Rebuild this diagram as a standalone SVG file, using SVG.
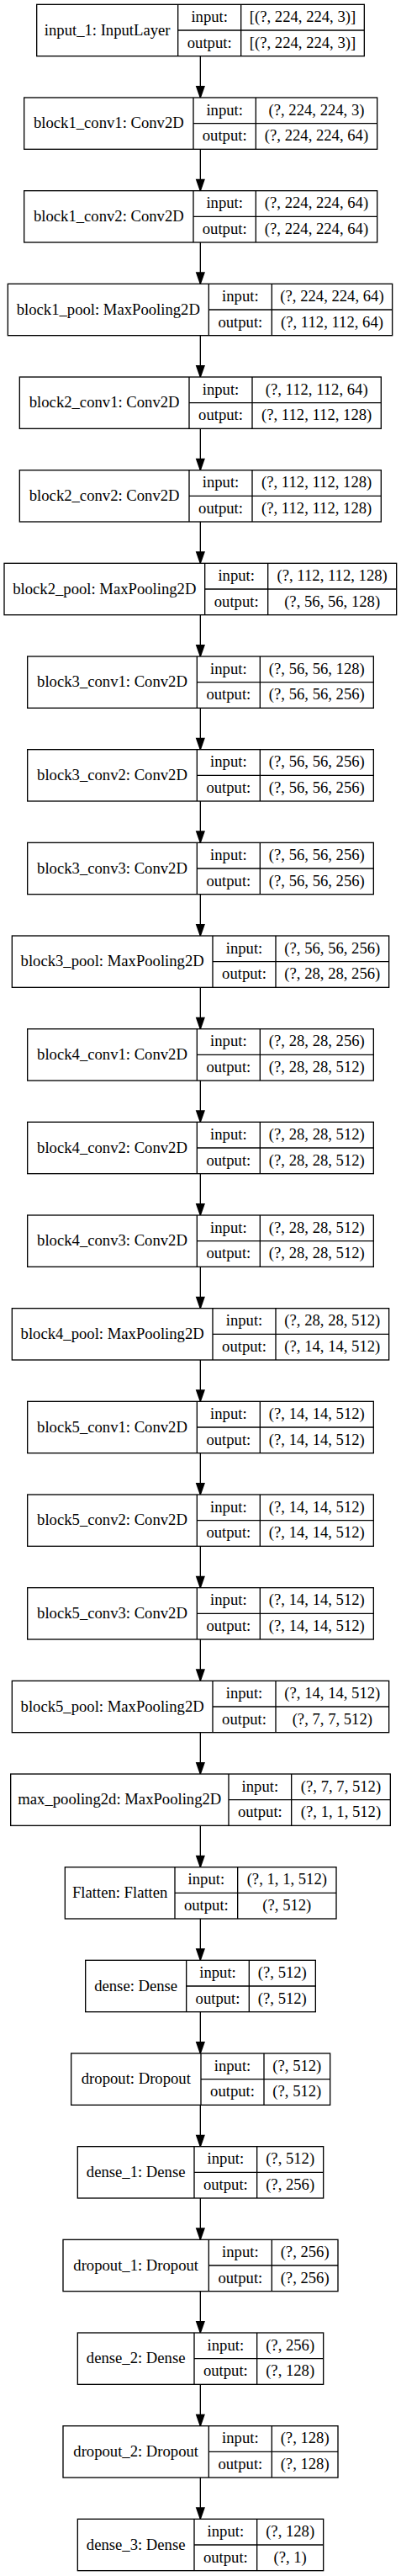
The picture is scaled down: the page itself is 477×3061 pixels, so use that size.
<svg xmlns="http://www.w3.org/2000/svg" width="477" height="3061" viewBox="0 0 477 3061">
<style>
rect{fill:#fff;stroke:#000;stroke-width:1.33}
.n path{fill:none;stroke:#000;stroke-width:1.33}
text{font-family:"Liberation Serif","Times New Roman",serif;font-size:18.67px;text-anchor:middle;fill:#000}
.e path{fill:none;stroke:#000;stroke-width:1.33}
</style>
<defs>
<marker id="ah" markerUnits="userSpaceOnUse" markerWidth="14" markerHeight="10" refX="13.33" refY="4.67" orient="auto" overflow="visible"><path d="M0 0L13.33 4.67L0 9.33Z" fill="#000" stroke="#000" stroke-width="1.33"/></marker>
</defs>
<rect x="0" y="0" width="477" height="3061" style="stroke:none"/>
<g id="edges" class="e">
<path d="M238.33 66.67V116" marker-end="url(#ah)"/>
<path d="M238.33 177.33V226.67" marker-end="url(#ah)"/>
<path d="M238.33 288V337.33" marker-end="url(#ah)"/>
<path d="M238.33 398.67V448" marker-end="url(#ah)"/>
<path d="M238.33 509.33V558.67" marker-end="url(#ah)"/>
<path d="M238.33 620V669.33" marker-end="url(#ah)"/>
<path d="M238.33 730.67V780" marker-end="url(#ah)"/>
<path d="M238.33 841.33V890.67" marker-end="url(#ah)"/>
<path d="M238.33 952V1001.33" marker-end="url(#ah)"/>
<path d="M238.33 1062.67V1112" marker-end="url(#ah)"/>
<path d="M238.33 1173.33V1222.67" marker-end="url(#ah)"/>
<path d="M238.33 1284V1333.33" marker-end="url(#ah)"/>
<path d="M238.33 1394.67V1444" marker-end="url(#ah)"/>
<path d="M238.33 1505.33V1554.67" marker-end="url(#ah)"/>
<path d="M238.33 1616V1665.33" marker-end="url(#ah)"/>
<path d="M238.33 1726.67V1776" marker-end="url(#ah)"/>
<path d="M238.33 1837.33V1886.67" marker-end="url(#ah)"/>
<path d="M238.33 1948V1997.33" marker-end="url(#ah)"/>
<path d="M238.33 2058.67V2108" marker-end="url(#ah)"/>
<path d="M238.33 2169.33V2218.67" marker-end="url(#ah)"/>
<path d="M238.33 2280V2329.33" marker-end="url(#ah)"/>
<path d="M238.33 2390.67V2440" marker-end="url(#ah)"/>
<path d="M238.33 2501.33V2550.67" marker-end="url(#ah)"/>
<path d="M238.33 2612V2661.33" marker-end="url(#ah)"/>
<path d="M238.33 2722.67V2772" marker-end="url(#ah)"/>
<path d="M238.33 2833.33V2882.67" marker-end="url(#ah)"/>
<path d="M238.33 2944V2993.33" marker-end="url(#ah)"/>
</g>

<g id="input_1" class="n" transform="translate(0,5.33)"><rect x="43.67" y="0" width="389.67" height="61.33"/><path d="M211.67 0V61.33M286.67 0V61.33M211.67 30.67H433.33"/><text x="127.67" y="36.3">input_1: InputLayer</text><text x="249.17" y="20.6">input:</text><text x="249.17" y="51.3">output:</text><text x="360" y="20.6">[(?, 224, 224, 3)]</text><text x="360" y="51.3">[(?, 224, 224, 3)]</text></g>

<g id="block1_conv1" class="n" transform="translate(0,116)"><rect x="28.67" y="0" width="420" height="61.33"/><path d="M230 0V61.33M304.33 0V61.33M230 30.67H448.67"/><text x="129.33" y="36.3">block1_conv1: Conv2D</text><text x="267.17" y="20.6">input:</text><text x="267.17" y="51.3">output:</text><text x="376.5" y="20.6">(?, 224, 224, 3)</text><text x="376.5" y="51.3">(?, 224, 224, 64)</text></g>

<g id="block1_conv2" class="n" transform="translate(0,226.67)"><rect x="28.67" y="0" width="420" height="61.33"/><path d="M230 0V61.33M304.33 0V61.33M230 30.67H448.67"/><text x="129.33" y="36.3">block1_conv2: Conv2D</text><text x="267.17" y="20.6">input:</text><text x="267.17" y="51.3">output:</text><text x="376.5" y="20.6">(?, 224, 224, 64)</text><text x="376.5" y="51.3">(?, 224, 224, 64)</text></g>

<g id="block1_pool" class="n" transform="translate(0,337.33)"><rect x="9.33" y="0" width="457.33" height="61.33"/><path d="M248.33 0V61.33M323.33 0V61.33M248.33 30.67H466.67"/><text x="128.83" y="36.3">block1_pool: MaxPooling2D</text><text x="285.83" y="20.6">input:</text><text x="285.83" y="51.3">output:</text><text x="395" y="20.6">(?, 224, 224, 64)</text><text x="395" y="51.3">(?, 112, 112, 64)</text></g>

<g id="block2_conv1" class="n" transform="translate(0,448)"><rect x="23.33" y="0" width="430" height="61.33"/><path d="M225 0V61.33M300 0V61.33M225 30.67H453.33"/><text x="124.17" y="36.3">block2_conv1: Conv2D</text><text x="262.5" y="20.6">input:</text><text x="262.5" y="51.3">output:</text><text x="376.67" y="20.6">(?, 112, 112, 64)</text><text x="376.67" y="51.3">(?, 112, 112, 128)</text></g>

<g id="block2_conv2" class="n" transform="translate(0,558.67)"><rect x="23.33" y="0" width="430" height="61.33"/><path d="M225 0V61.33M300 0V61.33M225 30.67H453.33"/><text x="124.17" y="36.3">block2_conv2: Conv2D</text><text x="262.5" y="20.6">input:</text><text x="262.5" y="51.3">output:</text><text x="376.67" y="20.6">(?, 112, 112, 128)</text><text x="376.67" y="51.3">(?, 112, 112, 128)</text></g>

<g id="block2_pool" class="n" transform="translate(0,669.33)"><rect x="5" y="0" width="466.67" height="61.33"/><path d="M243.67 0V61.33M318.67 0V61.33M243.67 30.67H471.67"/><text x="124.33" y="36.3">block2_pool: MaxPooling2D</text><text x="281.17" y="20.6">input:</text><text x="281.17" y="51.3">output:</text><text x="395.17" y="20.6">(?, 112, 112, 128)</text><text x="395.17" y="51.3">(?, 56, 56, 128)</text></g>

<g id="block3_conv1" class="n" transform="translate(0,780)"><rect x="32.67" y="0" width="411.67" height="61.33"/><path d="M234.33 0V61.33M309.33 0V61.33M234.33 30.67H444.33"/><text x="133.5" y="36.3">block3_conv1: Conv2D</text><text x="271.83" y="20.6">input:</text><text x="271.83" y="51.3">output:</text><text x="376.83" y="20.6">(?, 56, 56, 128)</text><text x="376.83" y="51.3">(?, 56, 56, 256)</text></g>

<g id="block3_conv2" class="n" transform="translate(0,890.67)"><rect x="32.67" y="0" width="411.67" height="61.33"/><path d="M234.33 0V61.33M309.33 0V61.33M234.33 30.67H444.33"/><text x="133.5" y="36.3">block3_conv2: Conv2D</text><text x="271.83" y="20.6">input:</text><text x="271.83" y="51.3">output:</text><text x="376.83" y="20.6">(?, 56, 56, 256)</text><text x="376.83" y="51.3">(?, 56, 56, 256)</text></g>

<g id="block3_conv3" class="n" transform="translate(0,1001.33)"><rect x="32.67" y="0" width="411.67" height="61.33"/><path d="M234.33 0V61.33M309.33 0V61.33M234.33 30.67H444.33"/><text x="133.5" y="36.3">block3_conv3: Conv2D</text><text x="271.83" y="20.6">input:</text><text x="271.83" y="51.3">output:</text><text x="376.83" y="20.6">(?, 56, 56, 256)</text><text x="376.83" y="51.3">(?, 56, 56, 256)</text></g>

<g id="block3_pool" class="n" transform="translate(0,1112)"><rect x="14.33" y="0" width="448.33" height="61.33"/><path d="M253 0V61.33M328 0V61.33M253 30.67H462.67"/><text x="133.67" y="36.3">block3_pool: MaxPooling2D</text><text x="290.5" y="20.6">input:</text><text x="290.5" y="51.3">output:</text><text x="395.33" y="20.6">(?, 56, 56, 256)</text><text x="395.33" y="51.3">(?, 28, 28, 256)</text></g>

<g id="block4_conv1" class="n" transform="translate(0,1222.67)"><rect x="32.67" y="0" width="411.67" height="61.33"/><path d="M234.33 0V61.33M309.33 0V61.33M234.33 30.67H444.33"/><text x="133.5" y="36.3">block4_conv1: Conv2D</text><text x="271.83" y="20.6">input:</text><text x="271.83" y="51.3">output:</text><text x="376.83" y="20.6">(?, 28, 28, 256)</text><text x="376.83" y="51.3">(?, 28, 28, 512)</text></g>

<g id="block4_conv2" class="n" transform="translate(0,1333.33)"><rect x="32.67" y="0" width="411.67" height="61.33"/><path d="M234.33 0V61.33M309.33 0V61.33M234.33 30.67H444.33"/><text x="133.5" y="36.3">block4_conv2: Conv2D</text><text x="271.83" y="20.6">input:</text><text x="271.83" y="51.3">output:</text><text x="376.83" y="20.6">(?, 28, 28, 512)</text><text x="376.83" y="51.3">(?, 28, 28, 512)</text></g>

<g id="block4_conv3" class="n" transform="translate(0,1444)"><rect x="32.67" y="0" width="411.67" height="61.33"/><path d="M234.33 0V61.33M309.33 0V61.33M234.33 30.67H444.33"/><text x="133.5" y="36.3">block4_conv3: Conv2D</text><text x="271.83" y="20.6">input:</text><text x="271.83" y="51.3">output:</text><text x="376.83" y="20.6">(?, 28, 28, 512)</text><text x="376.83" y="51.3">(?, 28, 28, 512)</text></g>

<g id="block4_pool" class="n" transform="translate(0,1554.67)"><rect x="14.33" y="0" width="448.33" height="61.33"/><path d="M253 0V61.33M328 0V61.33M253 30.67H462.67"/><text x="133.67" y="36.3">block4_pool: MaxPooling2D</text><text x="290.5" y="20.6">input:</text><text x="290.5" y="51.3">output:</text><text x="395.33" y="20.6">(?, 28, 28, 512)</text><text x="395.33" y="51.3">(?, 14, 14, 512)</text></g>

<g id="block5_conv1" class="n" transform="translate(0,1665.33)"><rect x="32.67" y="0" width="411.67" height="61.33"/><path d="M234.33 0V61.33M309.33 0V61.33M234.33 30.67H444.33"/><text x="133.5" y="36.3">block5_conv1: Conv2D</text><text x="271.83" y="20.6">input:</text><text x="271.83" y="51.3">output:</text><text x="376.83" y="20.6">(?, 14, 14, 512)</text><text x="376.83" y="51.3">(?, 14, 14, 512)</text></g>

<g id="block5_conv2" class="n" transform="translate(0,1776)"><rect x="32.67" y="0" width="411.67" height="61.33"/><path d="M234.33 0V61.33M309.33 0V61.33M234.33 30.67H444.33"/><text x="133.5" y="36.3">block5_conv2: Conv2D</text><text x="271.83" y="20.6">input:</text><text x="271.83" y="51.3">output:</text><text x="376.83" y="20.6">(?, 14, 14, 512)</text><text x="376.83" y="51.3">(?, 14, 14, 512)</text></g>

<g id="block5_conv3" class="n" transform="translate(0,1886.67)"><rect x="32.67" y="0" width="411.67" height="61.33"/><path d="M234.33 0V61.33M309.33 0V61.33M234.33 30.67H444.33"/><text x="133.5" y="36.3">block5_conv3: Conv2D</text><text x="271.83" y="20.6">input:</text><text x="271.83" y="51.3">output:</text><text x="376.83" y="20.6">(?, 14, 14, 512)</text><text x="376.83" y="51.3">(?, 14, 14, 512)</text></g>

<g id="block5_pool" class="n" transform="translate(0,1997.33)"><rect x="14.33" y="0" width="448.33" height="61.33"/><path d="M253 0V61.33M328 0V61.33M253 30.67H462.67"/><text x="133.67" y="36.3">block5_pool: MaxPooling2D</text><text x="290.5" y="20.6">input:</text><text x="290.5" y="51.3">output:</text><text x="395.33" y="20.6">(?, 14, 14, 512)</text><text x="395.33" y="51.3">(?, 7, 7, 512)</text></g>

<g id="max_pooling2d" class="n" transform="translate(0,2108)"><rect x="12.67" y="0" width="451.67" height="61.33"/><path d="M272 0V61.33M346.67 0V61.33M272 30.67H464.33"/><text x="142.33" y="36.3">max_pooling2d: MaxPooling2D</text><text x="309.33" y="20.6">input:</text><text x="309.33" y="51.3">output:</text><text x="405.5" y="20.6">(?, 7, 7, 512)</text><text x="405.5" y="51.3">(?, 1, 1, 512)</text></g>

<g id="flatten" class="n" transform="translate(0,2218.67)"><rect x="77.33" y="0" width="322.67" height="61.33"/><path d="M208 0V61.33M282.67 0V61.33M208 30.67H400"/><text x="142.67" y="36.3">Flatten: Flatten</text><text x="245.33" y="20.6">input:</text><text x="245.33" y="51.3">output:</text><text x="341.33" y="20.6">(?, 1, 1, 512)</text><text x="341.33" y="51.3">(?, 512)</text></g>

<g id="dense" class="n" transform="translate(0,2329.33)"><rect x="101.67" y="0" width="273.67" height="61.33"/><path d="M221.67 0V61.33M296.33 0V61.33M221.67 30.67H375.33"/><text x="161.67" y="36.3">dense: Dense</text><text x="259" y="20.6">input:</text><text x="259" y="51.3">output:</text><text x="335.83" y="20.6">(?, 512)</text><text x="335.83" y="51.3">(?, 512)</text></g>

<g id="dropout" class="n" transform="translate(0,2440)"><rect x="84.67" y="0" width="308" height="61.33"/><path d="M239 0V61.33M314 0V61.33M239 30.67H392.67"/><text x="161.83" y="36.3">dropout: Dropout</text><text x="276.5" y="20.6">input:</text><text x="276.5" y="51.3">output:</text><text x="353.33" y="20.6">(?, 512)</text><text x="353.33" y="51.3">(?, 512)</text></g>

<g id="dense_1" class="n" transform="translate(0,2550.67)"><rect x="92.33" y="0" width="292.33" height="61.33"/><path d="M231 0V61.33M305.67 0V61.33M231 30.67H384.67"/><text x="161.67" y="36.3">dense_1: Dense</text><text x="268.33" y="20.6">input:</text><text x="268.33" y="51.3">output:</text><text x="345.17" y="20.6">(?, 512)</text><text x="345.17" y="51.3">(?, 256)</text></g>

<g id="dropout_1" class="n" transform="translate(0,2661.33)"><rect x="75" y="0" width="327" height="61.33"/><path d="M248.33 0V61.33M323.33 0V61.33M248.33 30.67H402"/><text x="161.67" y="36.3">dropout_1: Dropout</text><text x="285.83" y="20.6">input:</text><text x="285.83" y="51.3">output:</text><text x="362.67" y="20.6">(?, 256)</text><text x="362.67" y="51.3">(?, 256)</text></g>

<g id="dense_2" class="n" transform="translate(0,2772)"><rect x="92.33" y="0" width="292.33" height="61.33"/><path d="M231 0V61.33M305.67 0V61.33M231 30.67H384.67"/><text x="161.67" y="36.3">dense_2: Dense</text><text x="268.33" y="20.6">input:</text><text x="268.33" y="51.3">output:</text><text x="345.17" y="20.6">(?, 256)</text><text x="345.17" y="51.3">(?, 128)</text></g>

<g id="dropout_2" class="n" transform="translate(0,2882.67)"><rect x="75" y="0" width="327" height="61.33"/><path d="M248.33 0V61.33M323.33 0V61.33M248.33 30.67H402"/><text x="161.67" y="36.3">dropout_2: Dropout</text><text x="285.83" y="20.6">input:</text><text x="285.83" y="51.3">output:</text><text x="362.67" y="20.6">(?, 128)</text><text x="362.67" y="51.3">(?, 128)</text></g>

<g id="dense_3" class="n" transform="translate(0,2993.33)"><rect x="92.33" y="0" width="292.33" height="61.33"/><path d="M231 0V61.33M305.67 0V61.33M231 30.67H384.67"/><text x="161.67" y="36.3">dense_3: Dense</text><text x="268.33" y="20.6">input:</text><text x="268.33" y="51.3">output:</text><text x="345.17" y="20.6">(?, 128)</text><text x="345.17" y="51.3">(?, 1)</text></g>
</svg>
